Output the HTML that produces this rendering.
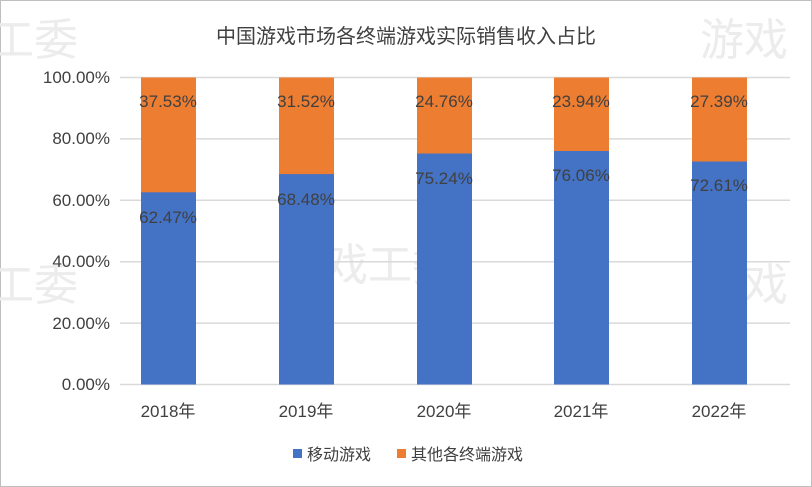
<!DOCTYPE html>
<html><head><meta charset="utf-8"><style>
body{margin:0;background:#fff}
svg{display:block;font-family:"Liberation Sans","Noto Sans CJK SC",sans-serif}
</style></head><body>
<svg width="812" height="487" viewBox="0 0 812 487">
<rect x="0.5" y="0.5" width="811" height="486" fill="#fff" stroke="#bfbfbf"/>
<g fill="#ececec" font-size="44" font-family="Noto Sans CJK SC,sans-serif">
<text x="-10" y="55">工委</text><text x="700" y="55">游戏</text>
<text x="-10" y="300">工委</text><text x="280" y="280">游戏工委</text><text x="700" y="300">游戏</text>
</g>
<text x="406" y="43" text-anchor="middle" font-size="20" fill="#404040">中国游戏市场各终端游戏实际销售收入占比</text>
<g stroke="#d9d9d9" stroke-width="1.5">
<line x1="120" x2="790" y1="77.5" y2="77.5"/><line x1="120" x2="790" y1="138.9" y2="138.9"/>
<line x1="120" x2="790" y1="200.3" y2="200.3"/><line x1="120" x2="790" y1="261.7" y2="261.7"/>
<line x1="120" x2="790" y1="323.1" y2="323.1"/><line x1="120" x2="790" y1="384.5" y2="384.5"/>
</g>
<g font-size="17" fill="#404040" text-anchor="end">
<text x="110" y="83">100.00%</text><text x="110" y="144">80.00%</text><text x="110" y="206">60.00%</text>
<text x="110" y="267">40.00%</text><text x="110" y="329">20.00%</text><text x="110" y="390">0.00%</text>
</g>
<g>
<rect x="141" y="77.5" width="55" height="115" fill="#ed7d31"/><rect x="141" y="192.3" width="55" height="192.2" fill="#4472c4"/>
<rect x="279" y="77.5" width="55" height="97" fill="#ed7d31"/><rect x="279" y="174.1" width="55" height="210.4" fill="#4472c4"/>
<rect x="417" y="77.5" width="55" height="76" fill="#ed7d31"/><rect x="417" y="153.5" width="55" height="231" fill="#4472c4"/>
<rect x="554" y="77.5" width="55" height="73.5" fill="#ed7d31"/><rect x="554" y="151" width="55" height="233.5" fill="#4472c4"/>
<rect x="692" y="77.5" width="55" height="84" fill="#ed7d31"/><rect x="692" y="161.5" width="55" height="223" fill="#4472c4"/>
</g>
<g font-size="17" fill="#404040" text-anchor="middle">
<text x="168" y="107">37.53%</text><text x="168" y="223">62.47%</text>
<text x="306" y="107">31.52%</text><text x="306" y="205">68.48%</text>
<text x="444" y="107">24.76%</text><text x="444" y="184">75.24%</text>
<text x="581" y="107">23.94%</text><text x="581" y="181">76.06%</text>
<text x="719" y="107">27.39%</text><text x="719" y="191">72.61%</text>
<text x="168" y="417">2018年</text><text x="306" y="417">2019年</text><text x="444" y="417">2020年</text>
<text x="581" y="417">2021年</text><text x="719" y="417">2022年</text>
</g>
<rect x="293" y="449" width="9" height="9" fill="#4472c4"/>
<text x="307" y="460" font-size="16" fill="#404040">移动游戏</text>
<rect x="397" y="449" width="9" height="9" fill="#ed7d31"/>
<text x="411" y="460" font-size="16" fill="#404040">其他各终端游戏</text>
</svg>
</body></html>
